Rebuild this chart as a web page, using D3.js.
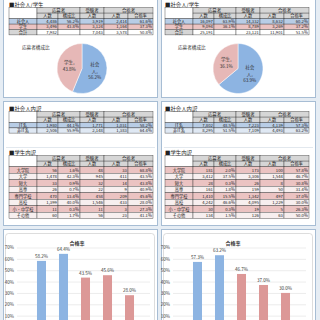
<!DOCTYPE html>
<html>
<head>
<meta charset="utf-8">
<script src="https://cdn.jsdelivr.net/npm/d3@7"></script>
<style>
body { margin: 0; background: #fff; }
svg { display: block; font-family: "Noto Sans CJK JP", sans-serif; }
</style>
</head>
<body>
<div id="container"></div>
<script>
// header labels shared by every table
var headTop = ['応募者', '受験者', '合格者'];
var headSub = ['人数', '構成比', '人数', '人数', '合格率'];

// row: label, applicants, share %, examinees, passers, pass rate %
var leftTop = [
    ['社会人', 4486, 56.2, 3919, 2414, 61.6],
    ['学生', 3496, 43.8, 3124, 1164, 37.3],
    ['合計', 7982, null, 7043, 3578, 50.8]
];
var rightTop = [
    ['社会人', 16097, 63.9, 14332, 8632, 60.2],
    ['学生', 9094, 36.1, 8789, 3269, 37.2],
    ['合計', 25191, null, 23121, 11901, 51.5]
];
var leftWork = [
    ['IT系', 1980, 44.1, 1771, 1031, 58.2],
    ['非IT系', 2506, 55.9, 2148, 1383, 64.4]
];
var rightWork = [
    ['IT系', 7802, 48.5, 7223, 4139, 57.3],
    ['非IT系', 8295, 51.5, 7109, 4493, 63.2]
];
var leftStudent = [
    ['大学院', 56, 1.6, 48, 33, 68.8],
    ['大学', 1478, 42.3, 945, 411, 43.5],
    ['短大', 33, 0.9, 32, 14, 43.8],
    ['高専', 26, 0.7, 22, 9, 40.9],
    ['専門学校', 470, 13.4, 458, 209, 45.6],
    ['高校', 1399, 40.0, 1546, 433, 28.0],
    ['小・中学校', 11, 0.3, 11, 3, 27.3],
    ['その他', 60, 1.7, 56, 23, 41.1]
];
var rightStudent = [
    ['大学院', 181, 2.0, 173, 100, 57.8],
    ['大学', 3412, 37.5, 3306, 1544, 46.7],
    ['短大', 28, 0.3, 26, 8, 30.8],
    ['高専', 161, 1.8, 159, 50, 31.4],
    ['専門学校', 1410, 15.5, 1342, 497, 37.0],
    ['高校', 4242, 46.6, 4095, 1229, 30.0],
    ['小・中学校', 30, 0.3, 19, 5, 26.3],
    ['その他', 134, 1.5, 126, 63, 50.0]
];

var pieLabels = ['社会人', '学生'];
var pieLeft = [56.2, 43.8];
var pieRight = [63.9, 36.1];

var barCategories = ['IT系', '非IT系', '大学', '専門学校', '高校'];
var barGroups = ['社会人', '社会人', '学生', '学生', '学生'];
var barLeft = [58.2, 64.4, 43.5, 45.6, 28.0];
var barRight = [57.3, 63.2, 46.7, 37.0, 30.0];
var yTicks = [10, 20, 30, 40, 50, 60, 70];

var width = 320,
    height = 320;

var svg = d3.select('#container')
    .append('svg')
    .attr('width', width)
    .attr('height', height);

svg.append('rect')
    .attr('width', width)
    .attr('height', height)
    .attr('fill', '#e6edf4');

var groupColor = d3.scaleOrdinal()
    .domain(['社会人', '学生'])
    .range(['#8db4e2', '#e6b8b7']);
var barColor = d3.scaleOrdinal()
    .domain(['社会人', '学生'])
    .range(['#8db4e2', '#dc9897']);

var cols = [0, 28, 49, 71, 95, 119, 144];

function fmt(v, i) {
    if (v === null) return '';
    if (i === 2 || i === 5) return v.toFixed(1) + '%';
    return d3.format(',')(v);
}

function cell(g, x0, x1, y0, y1, fill) {
    g.append('rect')
        .attr('x', x0).attr('y', y0)
        .attr('width', x1 - x0).attr('height', y1 - y0)
        .attr('fill', fill)
        .attr('stroke', '#333')
        .attr('stroke-width', 0.4);
}

function drawTable(g, x0, y0, rows, rowH, fills, labelFills) {
    var t = g.append('g').attr('transform', 'translate(' + x0 + ',' + y0 + ')');
    var hH = 5.6;
    var head = '#d6d6d6';
    cell(t, cols[0], cols[1], 0, hH * 2, '#fff');
    var spans = [[1, 3], [3, 4], [4, 6]];
    spans.forEach(function(s, i) {
        cell(t, cols[s[0]], cols[s[1]], 0, hH, head);
        t.append('text')
            .attr('x', (cols[s[0]] + cols[s[1]]) / 2).attr('y', hH - 1.4)
            .attr('text-anchor', 'middle').attr('font-size', 4.4).attr('fill', '#222')
            .text(headTop[i]);
    });
    headSub.forEach(function(h, i) {
        cell(t, cols[i + 1], cols[i + 2], hH, hH * 2, head);
        t.append('text')
            .attr('x', (cols[i + 1] + cols[i + 2]) / 2).attr('y', hH * 2 - 1.4)
            .attr('text-anchor', 'middle').attr('font-size', 4.2).attr('fill', '#222')
            .text(h);
    });
    rows.forEach(function(r, ri) {
        var ry = hH * 2 + ri * rowH;
        r.forEach(function(v, ci) {
            var fill = ci === 0 ? labelFills[ri] : fills[ri];
            cell(t, cols[ci], cols[ci + 1], ry, ry + rowH, fill);
            var txt = t.append('text')
                .attr('y', ry + rowH - 1.3)
                .attr('font-size', 4.2)
                .attr('fill', '#222')
                .text(ci === 0 ? v : fmt(v, ci));
            if (ci === 0) {
                txt.attr('x', (cols[0] + cols[1]) / 2).attr('text-anchor', 'middle');
            } else {
                txt.attr('x', cols[ci + 1] - 1.2).attr('text-anchor', 'end');
            }
        });
    });
}

function title(g, x, y, s) {
    g.append('text')
        .attr('x', x).attr('y', y)
        .attr('font-size', 5.4)
        .attr('fill', '#222')
        .text(s);
}

function drawSide(ox, px, top, work, student, pieVals, bars) {
    var g = svg.append('g');

    // panels
    [[-4, 97], [101, 225], [229, 330]].forEach(function(p) {
        g.append('rect')
            .attr('x', px + 0.5).attr('y', p[0] + 0.5)
            .attr('width', 154).attr('height', p[1] - p[0])
            .attr('fill', '#fff')
            .attr('stroke', '#a7bdd4')
            .attr('stroke-width', 1);
    });
    g.append('line')
        .attr('x1', px + 3).attr('x2', px + 152)
        .attr('y1', 147.5).attr('y2', 147.5)
        .attr('stroke', '#e2e8ee');

    // 社会人/学生
    title(g, ox + 9, 6.5, '■社会人/学生');
    drawTable(g, ox + 9, 7.5, top, 5.4,
        ['#b8cde6', '#ebc3c2', '#fff'],
        ['#b8cde6', '#ebc3c2', '#d6d6d6']);

    g.append('text')
        .attr('x', ox + 22).attr('y', 49)
        .attr('font-size', 4.6).attr('fill', '#333')
        .text('応募者構成比');

    var pg = g.append('g').attr('transform', 'translate(' + (ox + 82) + ',68.5)');
    var arc = d3.arc().innerRadius(0).outerRadius(25);
    var labelArc = d3.arc().innerRadius(13).outerRadius(13);
    var pie = d3.pie().sort(null).value(function(d) { return d; });
    var slices = pie(pieVals);
    pg.selectAll('path')
        .data(slices)
        .enter()
        .append('path')
        .attr('d', arc)
        .attr('fill', function(d, i) { return groupColor(pieLabels[i]); })
        .attr('stroke', '#fff')
        .attr('stroke-width', 0.5);
    slices.forEach(function(d, i) {
        var name = pieLabels[i];
        var lines = name.length > 2 ? [name.slice(0, 2), name.slice(2) + ',', d.data.toFixed(1) + '%']
                                    : [name + ',', d.data.toFixed(1) + '%'];
        var c = labelArc.centroid(d);
        var txt = pg.append('text')
            .attr('text-anchor', 'middle')
            .attr('font-size', 4.6)
            .attr('fill', '#333');
        lines.forEach(function(l, li) {
            txt.append('tspan')
                .attr('x', c[0])
                .attr('y', c[1] + (li - (lines.length - 1) / 2) * 6.5 + 1.6)
                .text(l);
        });
    });

    // 社会人内訳
    title(g, ox + 9, 110.5, '■社会人内訳');
    drawTable(g, ox + 9, 111.5, work, 5.2,
        ['#b8cde6', '#dfe8f3'],
        ['#b8cde6', '#dfe8f3']);

    // 学生内訳
    title(g, ox + 9, 154.5, '■学生内訳');
    drawTable(g, ox + 9, 155.5, student, 6.5,
        student.map(function(d, i) { return i % 2 === 0 ? '#ebc3c2' : '#f7efef'; }),
        student.map(function(d, i) { return i % 2 === 0 ? '#ebc3c2' : '#f7efef'; }));

    // 合格率 chart
    g.append('rect')
        .attr('x', px + 2.5).attr('y', 233.5)
        .attr('width', 149).attr('height', 100)
        .attr('rx', 3)
        .attr('fill', '#fff')
        .attr('stroke', '#c6c6c6')
        .attr('stroke-width', 0.6);
    g.append('text')
        .attr('x', ox + 77).attr('y', 245)
        .attr('text-anchor', 'middle')
        .attr('font-size', 5)
        .attr('font-weight', 'bold')
        .attr('fill', '#333')
        .text('合格率');

    var y = d3.scaleLinear().domain([0, 70]).range([327, 247.5]);
    var x = d3.scaleBand().domain(barCategories).range([ox + 24, ox + 147]).padding(0.59);

    g.append('g')
        .attr('transform', 'translate(' + (ox + 17) + ',0)')
        .call(d3.axisLeft(y).tickValues(yTicks).tickSize(-133).tickFormat(''))
        .call(function(a) {
            a.select('.domain').remove();
            a.selectAll('line').attr('stroke', '#d9d9d9').attr('stroke-width', 0.5);
        });
    g.append('g')
        .attr('transform', 'translate(' + (ox + 16) + ',0)')
        .call(d3.axisLeft(y).tickValues(yTicks).tickSize(0).tickPadding(2)
            .tickFormat(function(d) { return d + '%'; }))
        .call(function(a) {
            a.select('.domain').remove();
            a.selectAll('text')
                .attr('font-size', 4.6)
                .attr('fill', '#444')
                .attr('font-family', '"Noto Sans CJK JP", sans-serif');
        });

    g.selectAll('.bar' + ox)
        .data(bars)
        .enter()
        .append('rect')
        .attr('x', function(d, i) { return x(barCategories[i]); })
        .attr('y', function(d) { return y(d); })
        .attr('width', x.bandwidth())
        .attr('height', function(d) { return y(0) - y(d); })
        .attr('fill', function(d, i) { return barColor(barGroups[i]); });

    g.selectAll('.lbl' + ox)
        .data(bars)
        .enter()
        .append('text')
        .attr('x', function(d, i) { return x(barCategories[i]) + x.bandwidth() / 2; })
        .attr('y', function(d) { return y(d) - 3; })
        .attr('text-anchor', 'middle')
        .attr('font-size', 4.6)
        .attr('fill', '#404040')
        .text(function(d) { return d.toFixed(1) + '%'; });
}

drawSide(0, 3, leftTop, leftWork, leftStudent, pieLeft, barLeft);
drawSide(156, 161, rightTop, rightWork, rightStudent, pieRight, barRight);
</script>
</body>
</html>
